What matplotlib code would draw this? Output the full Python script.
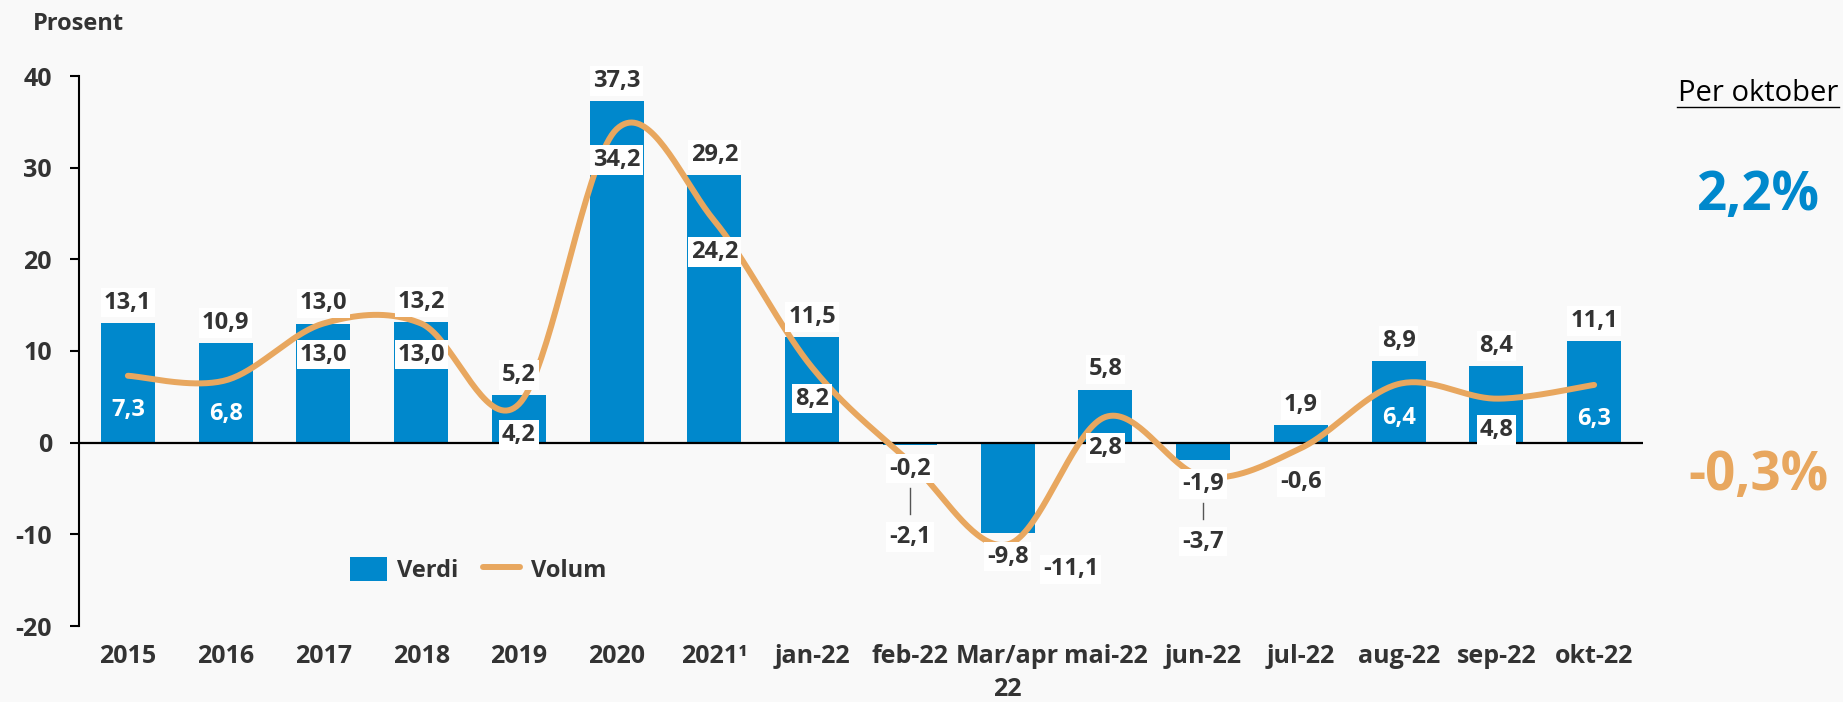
import numpy as np
import matplotlib
matplotlib.use("Agg")
import matplotlib.pyplot as plt
from matplotlib.patches import Patch
from matplotlib.lines import Line2D

categories = ['2015', '2016', '2017', '2018', '2019', '2020', '2021\u00b9', 'jan-22',
              'feb-22', 'Mar/apr\n22', 'mai-22', 'jun-22', 'jul-22', 'aug-22', 'sep-22', 'okt-22']
verdi = [13.1, 10.9, 13.0, 13.2, 5.2, 37.3, 29.2, 11.5, -0.2, -9.8, 5.8, -1.9, 1.9, 8.9, 8.4, 11.1]
volum = [7.3, 6.8, 13.0, 13.0, 4.2, 34.2, 24.2, 8.2, -2.1, -11.1, 2.8, -3.7, -0.6, 6.4, 4.8, 6.3]
yticks = [-20, -10, 0, 10, 20, 30, 40]
per_oktober_verdi = 2.2
per_oktober_volum = -0.3

BLUE = '#0088CC'
ORANGE = '#E8A75F'
TEXT = '#333333'
BG = '#F9F9F9'

plt.rcParams['font.family'] = ['Open Sans', 'DejaVu Sans']
plt.rcParams['font.weight'] = 'bold'
plt.rcParams['axes.unicode_minus'] = False

W, H = 1843, 702


def fmt(v):
    return f'{v:.1f}'.replace('.', ',')


def smooth(xs, ys, n=40):
    # catmull-rom style bezier, like the excel "smoothed line"
    pts = np.column_stack([xs, ys]).astype(float)
    out = []
    for i in range(len(pts) - 1):
        p0 = pts[max(i - 1, 0)]
        p1 = pts[i]
        p2 = pts[i + 1]
        p3 = pts[min(i + 2, len(pts) - 1)]
        c1 = p1 + (p2 - p0) / 6
        c2 = p2 - (p3 - p1) / 6
        t = np.linspace(0, 1, n)[:, None]
        seg = ((1 - t) ** 3) * p1 + 3 * ((1 - t) ** 2) * t * c1 + 3 * (1 - t) * t ** 2 * c2 + t ** 3 * p2
        out.append(seg if i == 0 else seg[1:])
    out = np.vstack(out)
    return out[:, 0], out[:, 1]


fig = plt.figure(figsize=(W / 100, H / 100), dpi=100, facecolor=BG)
ax = fig.add_axes([79 / W, 1 - 626 / H, (1643 - 79) / W, 550 / H])
ax.set_facecolor(BG)

x = np.arange(len(categories))
ax.bar(x, verdi, width=0.55, color=BLUE, zorder=2)
sx, sy = smooth(x, volum)
ax.plot(sx, sy, color=ORANGE, lw=4.3, solid_capstyle='round', zorder=3)
ax.axhline(0, color='black', lw=1.6, zorder=2.5)

ax.set_xlim(-0.5, len(categories) - 0.5)
ax.set_ylim(-20, 40)
for s in ['top', 'right', 'bottom']:
    ax.spines[s].set_visible(False)
ax.spines['left'].set_linewidth(1.5)
ax.set_yticks(yticks, labels=[str(t) for t in yticks])
ax.tick_params(axis='y', length=6.5, width=1.5, pad=13, labelsize=18, labelcolor=TEXT)
ax.set_xticks(x, labels=categories)
ax.tick_params(axis='x', length=0, pad=13, labelsize=18, labelcolor=TEXT)
for lab in ax.get_xticklabels():
    lab.set_linespacing(1.4)

box = dict(boxstyle='square,pad=0.12', facecolor='white', edgecolor='none')

# bar labels
for i, v in enumerate(verdi):
    dy = 20 if v >= 0 else -24
    ax.annotate(fmt(v), (i, v), xytext=(0, dy), textcoords='offset pixels',
                ha='center', va='center', fontsize=17, color=TEXT, bbox=box, zorder=5)

# volum labels
white_text = [0, 1, 13, 15]
offsets = {8: (0, -75), 9: (63, -25), 11: (0, -65), 12: (0, -34)}
for i, v in enumerate(volum):
    dx, dy = offsets.get(i, (0, -31))
    if i in white_text:
        kw = dict(color='white')
        dy = -34
    else:
        kw = dict(color=TEXT, bbox=box)
    ax.annotate(fmt(v), (i, v), xytext=(dx, dy), textcoords='offset pixels',
                ha='center', va='center', fontsize=17, zorder=5, **kw)

# leader lines between stacked negative labels
fig.canvas.draw()
for i in [8, 11]:
    y_top = ax.transData.transform((i, verdi[i]))[1] - 24 - 19
    y_bot = ax.transData.transform((i, volum[i]))[1] + offsets[i][1] + 23
    xp = ax.transData.transform((i, 0))[0]
    fig.add_artist(Line2D([xp / W, xp / W], [y_top / H, y_bot / H], color='#555555', lw=1.0))

ax.legend(handles=[Patch(facecolor=BLUE, edgecolor='none', label='Verdi'),
                   Line2D([], [], color=ORANGE, lw=4.3, solid_capstyle='round', label='Volum')],
          loc='center', bbox_to_anchor=(478 / W, 1 - 570 / H), bbox_transform=fig.transFigure,
          ncol=2, frameon=False, fontsize=17, handlelength=1.55, handleheight=1.15,
          handletextpad=0.45, columnspacing=1.05, labelcolor=TEXT)

fig.text(33 / W, 1 - 30 / H, 'Prosent', fontsize=17, color=TEXT, ha='left', va='baseline')

# per oktober summary
fig.text(1758 / W, 1 - 101 / H, 'Per oktober', fontsize=21, fontweight='normal', color='black',
         ha='center', va='baseline')
fig.add_artist(Line2D([1677 / W, 1839 / W], [1 - 107 / H, 1 - 107 / H], color='black', lw=1.0))
fig.text(1758 / W, 1 - 210 / H, fmt(per_oktober_verdi) + '%', fontsize=38, color=BLUE,
         ha='center', va='baseline')
fig.text(1758 / W, 1 - 490 / H, fmt(per_oktober_volum) + '%', fontsize=38, color=ORANGE,
         ha='center', va='baseline')

fig.savefig('out.png', dpi=100, facecolor=BG)
